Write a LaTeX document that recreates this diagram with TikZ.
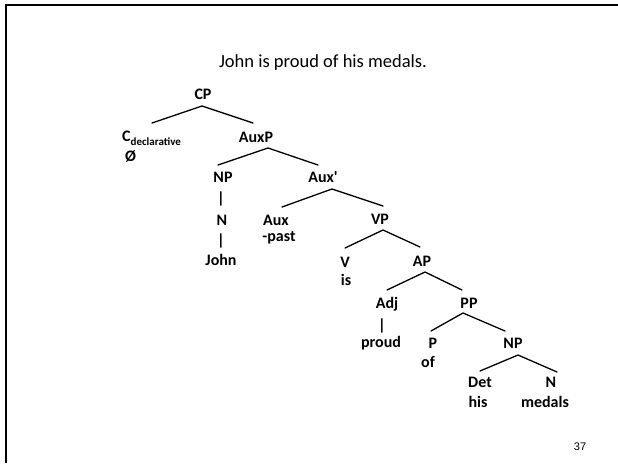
\documentclass[tikz,border=0pt]{standalone}
\usepackage{fontspec}
\setmainfont{Carlito}[Ligatures=TeXOff]
\newfontfamily\numfont{Liberation Sans}
\usetikzlibrary{calc}
\tikzset{
  lab/.style={font=\bfseries\fontsize{16}{19}\selectfont, inner sep=0pt, text height=10.3pt, text depth=0pt, anchor=center},
  labfree/.style={font=\bfseries\fontsize{16}{19}\selectfont, inner sep=0pt},
  branch/.style={line width=1.3pt, line cap=round},
}
\begin{document}
\begin{tikzpicture}[x=1pt,y=-1pt]
\useasboundingbox (0,0) rectangle (618,463);
\fill[white] (0,0) rectangle (618,463);
\draw[line width=2pt] (6,463) -- (6,4.5) -- (618,4.5);

\node[font=\fontsize{18.5}{22}\selectfont, anchor=base, inner sep=0pt] (title) at (323,67) {John is proud of his medals.};

\node[lab] (CP) at (203,94) {CP};
\node[labfree, anchor=base west] (C) at (122,141) {C\raisebox{-4pt}{\fontsize{11}{13}\selectfont declarative}};
\node[labfree, anchor=base west] (Cnull) at (125,161) {Ø};
\node[lab] (AuxP) at (256,137) {AuxP};
\node[lab] (NPa) at (223,177) {NP};
\node[lab] (bara) at (221,198) {|};
\node[lab] (Na) at (222,220) {N};
\node[lab] (barb) at (221,240) {|};
\node[lab] (John) at (221,260) {John};
\node[lab] (Auxbar) at (323,177) {Aux'};
\node[lab] (Aux) at (276,220) {Aux};
\node[lab] (past) at (279,236) {-past};
\node[lab] (VP) at (380,219) {VP};
\node[lab] (V) at (345,262) {V};
\node[lab] (is) at (346,280) {is};
\node[lab] (AP) at (422,261) {AP};
\node[lab] (Adj) at (387,303) {Adj};
\node[lab] (barc) at (382,325) {|};
\node[lab] (proud) at (381,342) {proud};
\node[lab] (PP) at (469,303) {PP};
\node[lab] (P) at (433,343) {P};
\node[lab] (of) at (428,362) {of};
\node[lab] (NPb) at (513,343) {NP};
\node[lab] (Det) at (480,382) {Det};
\node[lab] (his) at (478,402) {his};
\node[lab] (Nb) at (551,382) {N};
\node[lab] (medals) at (545,402) {medals};

\node[font=\numfont\fontsize{11}{13}\selectfont, inner sep=0pt] (num) at (580,447) {37};

\draw[branch] ($(C.base west)+(30,-18)$) -- ($(CP)+(-1,12)$) -- ($(AuxP)+(-3,-14)$);
\draw[branch] ($(NPa)+(-5,-12)$) -- ($(AuxP)+(12,11)$) -- ($(Auxbar)+(-5,-12)$);
\draw[branch] ($(Aux)+(6,-13)$) -- ($(Auxbar)+(9,12)$) -- ($(VP)+(3,-13)$);
\draw[branch] ($(V)+(0,-14)$) -- ($(VP)+(3,11)$) -- ($(AP)+(-2,-14)$);
\draw[branch] ($(Adj)+(0,-13)$) -- ($(AP)+(3,11)$) -- ($(PP)+(-7,-13)$);
\draw[branch] ($(P)+(-2,-12)$) -- ($(PP)+(-6,10)$) -- ($(NPb)+(-8,-12)$);
\draw[branch] ($(Det)+(0,-11)$) -- ($(NPb)+(5,12)$) -- ($(Nb)+(6,-10)$);
\end{tikzpicture}
\end{document}
